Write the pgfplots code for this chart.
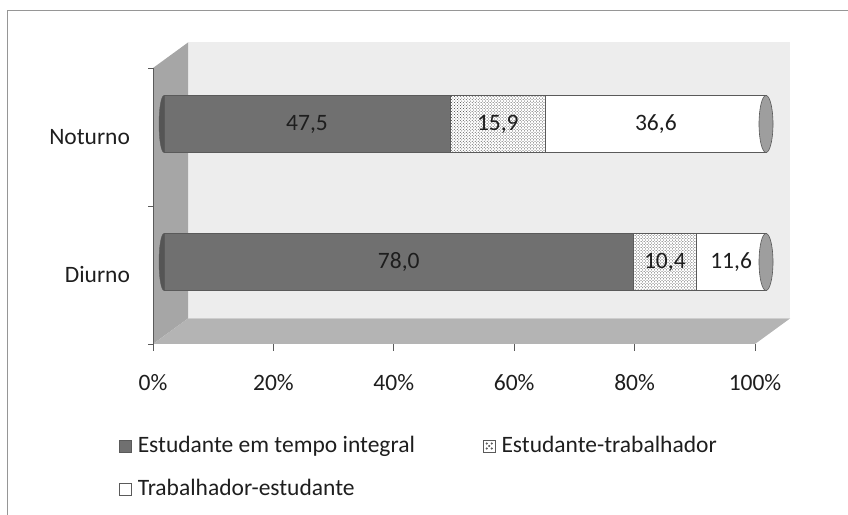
\documentclass[border=0pt]{standalone}
\usepackage{pgfplots}
\pgfplotsset{compat=1.18}
\usepackage{fontspec}
\setmainfont{Carlito}
\usetikzlibrary{patterns}
\definecolor{backwall}{RGB}{237,237,237}
\definecolor{sidewall}{RGB}{166,166,166}
\definecolor{floorc}{RGB}{180,180,180}
\definecolor{darkbar}{RGB}{112,112,112}
\definecolor{darkC}{RGB}{85,85,85}
\definecolor{edgec}{RGB}{90,90,90}
\definecolor{framec}{RGB}{150,150,150}
\definecolor{txt}{RGB}{30,30,30}
\begin{document}
\fontsize{23.5bp}{27bp}\selectfont
\begin{tikzpicture}[x=1bp,y=1bp]
\useasboundingbox (0,0) rectangle (848,515);
\draw[framec, line width=1bp] (7,0) -- (7,504) -- (848,504);
% 3D walls (decoration)
\fill[backwall] (188,196.5) rectangle (790,472.5);
\fill[sidewall] (153,171) -- (153,447) -- (188,472.5) -- (188,196.5) -- cycle;
\fill[floorc] (153,171) -- (755,171) -- (790,196.5) -- (188,196.5) -- cycle;
\draw[edgec, line width=0.8bp] (153,171) -- (153,447);
\draw[edgec, line width=0.8bp] (148,171) -- (153,171) (148,309) -- (153,309) (148,447) -- (153,447);
% left cylinder ends
\fill[darkC, draw=edgec] (164,253) ellipse [x radius=5, y radius=28.5];
\fill[darkC, draw=edgec] (164,391) ellipse [x radius=5, y radius=28.5];
\begin{axis}[
  at={(164bp,184bp)}, anchor=south west,
  scale only axis, width=602bp, height=276bp,
  xmin=0, xmax=100, ymin=-0.5, ymax=1.5,
  xbar stacked, bar width=57bp,
  clip=false,
  axis line style={draw=none},
  ytick={0,1}, yticklabels={Diurno,Noturno},
  ytick style={draw=none},
  xtick={0,20,...,100},
  xticklabel={\pgfmathprintnumber{\tick}\%},
  xtick pos=left,
  tick align=outside, major tick length=7bp,
  xtick style={draw=edgec, line width=0.8bp, xshift=-11bp, yshift=-13bp},
  xticklabel style={xshift=-11bp, yshift=-28bp, text=txt},
  yticklabel style={xshift=-19bp, yshift=-13bp, text=txt},
  /pgf/number format/assume math mode=true,
  nodes near coords,
  nodes near coords style={text=txt},
  point meta=rawx,
  every node near coord/.append style={/pgf/number format/.cd, use comma, fixed, fixed zerofill, precision=1},
  legend cell align=left,
  legend columns=2,
  legend style={draw=none, fill=none, at={(-0.0748,-0.380)}, anchor=north west,
    inner sep=0pt, nodes={inner sep=0pt, text=txt}, column sep=6bp, row sep=23bp,
    /tikz/every even column/.append style={column sep=68bp}},
]
\addplot[forget plot, draw=edgec, line width=0.6bp, fill=darkbar]
  coordinates {(78.0,0) (47.5,1)};
\addplot[forget plot, draw=edgec, line width=0.6bp, fill=white, postaction={pattern=crosshatch dots, pattern color=black!75}]
  coordinates {(10.4,0) (15.9,1)};
\addplot[forget plot, draw=edgec, line width=0.6bp, fill=white]
  coordinates {(11.6,0) (36.6,1)};
\addlegendimage{legend image code/.code={\draw[draw=edgec, fill=darkbar, line width=0.6bp] (0bp,-6bp) rectangle (12bp,6bp);}}
\addlegendentry{Estudante em tempo integral}
\addlegendimage{legend image code/.code={\draw[draw=edgec, fill=white, line width=0.6bp] (0bp,-6bp) rectangle (12bp,6bp);
   \fill[edgec] (3.5bp,-2.5bp) circle (0.9bp) (8.5bp,-2.5bp) circle (0.9bp) (6bp,0bp) circle (0.9bp) (3.5bp,2.5bp) circle (0.9bp) (8.5bp,2.5bp) circle (0.9bp);}}
\addlegendentry{Estudante-trabalhador}
\addlegendimage{legend image code/.code={\draw[draw=edgec, fill=white, line width=0.6bp] (0bp,-6bp) rectangle (12bp,6bp);}}
\addlegendentry{Trabalhador-estudante}
\end{axis}
% right cylinder ends
\fill[white!62!black, draw=edgec, line width=0.6bp] (766,253) ellipse [x radius=7, y radius=28.5];
\fill[white!62!black, draw=edgec, line width=0.6bp] (766,391) ellipse [x radius=7, y radius=28.5];
\end{tikzpicture}
\end{document}
